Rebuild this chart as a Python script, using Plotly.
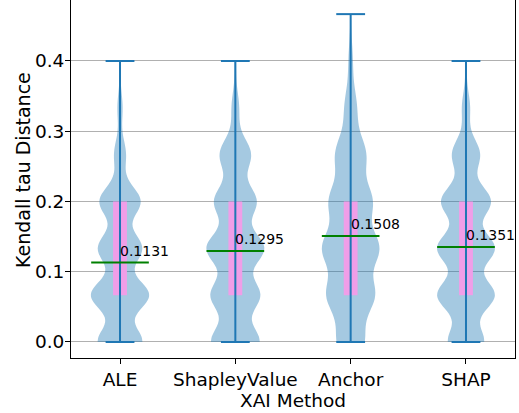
import numpy as np
import plotly.graph_objects as go

methods = ["ALE", "ShapleyValue", "Anchor", "SHAP"]
positions = [1, 2, 3, 4]
# Kendall tau distance levels (k/15) and estimated counts per level
levels = [0/15, 1/15, 2/15, 3/15, 4/15, 5/15, 6/15, 7/15]
counts_ale = [770, 1000, 760, 710, 205, 90, 18, 0]
counts_shapley = [840, 850, 990, 730, 540, 130, 25, 0]
counts_anchor = [450, 780, 920, 700, 500, 200, 70, 10]
counts_shap = [620, 980, 980, 850, 480, 140, 25, 0]
bandwidths = [0.0213, 0.0227, 0.0267, 0.022]
means = [0.1131, 0.1295, 0.1508, 0.1351]
q1 = [0.0667, 0.0667, 0.0667, 0.0667]
q3 = [0.2, 0.2, 0.2, 0.2]
mins = [0.0, 0.0, 0.0, 0.0]
maxs = [0.4, 0.4, 0.4667, 0.4]
y_ticks = [0.0, 0.1, 0.2, 0.3, 0.4]

all_counts = [counts_ale, counts_shapley, counts_anchor, counts_shap]
BLUE = "#1f77b4"

fig = go.Figure()
for pos, cnt, bw in zip(positions, all_counts, bandwidths):
    vals = np.repeat(levels, cnt)
    fig.add_trace(go.Violin(
        x0=pos, y=vals, width=0.5, bandwidth=bw, spanmode="hard",
        scalemode="width", points=False, box_visible=False, meanline_visible=False,
        fillcolor="rgba(31,119,180,0.4)", line=dict(width=0, color="rgba(31,119,180,0.0)"),
        hoverinfo="skip", showlegend=False))

# interquartile boxes (pink)
bx, by = [], []
hw = 0.06
for pos, a, b in zip(positions, q1, q3):
    bx += [pos - hw, pos + hw, pos + hw, pos - hw, pos - hw, None]
    by += [a, a, b, b, a, None]
fig.add_trace(go.Scatter(x=bx, y=by, mode="lines", fill="toself",
                         fillcolor="rgb(240,158,232)", line=dict(width=0),
                         hoverinfo="skip", showlegend=False))

wx, wy = [], []
for pos, lo, hi in zip(positions, mins, maxs):
    wx += [pos, pos, None, pos - 0.125, pos + 0.125, None, pos - 0.125, pos + 0.125, None]
    wy += [lo, hi, None, lo, lo, None, hi, hi, None]
fig.add_trace(go.Scatter(x=wx, y=wy, mode="lines", line=dict(color=BLUE, width=2),
                         hoverinfo="skip", showlegend=False))

mx, my = [], []
for pos, m in zip(positions, means):
    mx += [pos - 0.25, pos + 0.25, None]
    my += [m, m, None]
fig.add_trace(go.Scatter(x=mx, y=my, mode="lines", line=dict(color="green", width=2),
                         hoverinfo="skip", showlegend=False))

annotations = []
for pos, m in zip(positions, means):
    annotations.append(dict(x=pos, y=m, xref="x", yref="y", text=f"{m:.4f}",
                            showarrow=False, xanchor="left", yanchor="bottom",
                            xshift=-2, yshift=2,
                            font=dict(family="DejaVu Sans", size=14, color="black")))
annotations.append(dict(x=0.5, y=0, xref="paper", yref="paper", text="XAI Method",
                        showarrow=False, xanchor="center", yanchor="top", yshift=-30,
                        font=dict(family="DejaVu Sans", size=18.5, color="black")))
annotations.append(dict(x=0, y=0.5, xref="paper", yref="paper", text="Kendall tau Distance",
                        showarrow=False, xanchor="center", yanchor="middle", xshift=-48,
                        yshift=9, textangle=-90,
                        font=dict(family="DejaVu Sans", size=19, color="black")))

fig.update_layout(
    width=519, height=413,
    margin=dict(l=71, r=4, t=0, b=55),
    paper_bgcolor="white", plot_bgcolor="white",
    font=dict(family="DejaVu Sans", size=18, color="black"),
    annotations=annotations,
    xaxis=dict(range=[0.575, 4.425], tickvals=positions, ticktext=methods,
               showgrid=False, zeroline=False, showline=True, linecolor="black",
               linewidth=1, ticks="outside", ticklen=5, tickcolor="black",
               tickfont=dict(size=18.5)),
    yaxis=dict(range=[-0.0228, 0.4868], tickvals=y_ticks, tickformat=".1f",
               showgrid=True, gridcolor="#b0b0b0", gridwidth=1, zeroline=False,
               showline=True, mirror=True, linecolor="black", linewidth=1,
               ticks="outside", ticklen=5, tickcolor="black", ticklabelstandoff=-3,
               tickfont=dict(size=18.5)),
)

fig.write_html("out.html", config={"displayModeBar": False},
               post_script="document.body.style.margin='0px';")
